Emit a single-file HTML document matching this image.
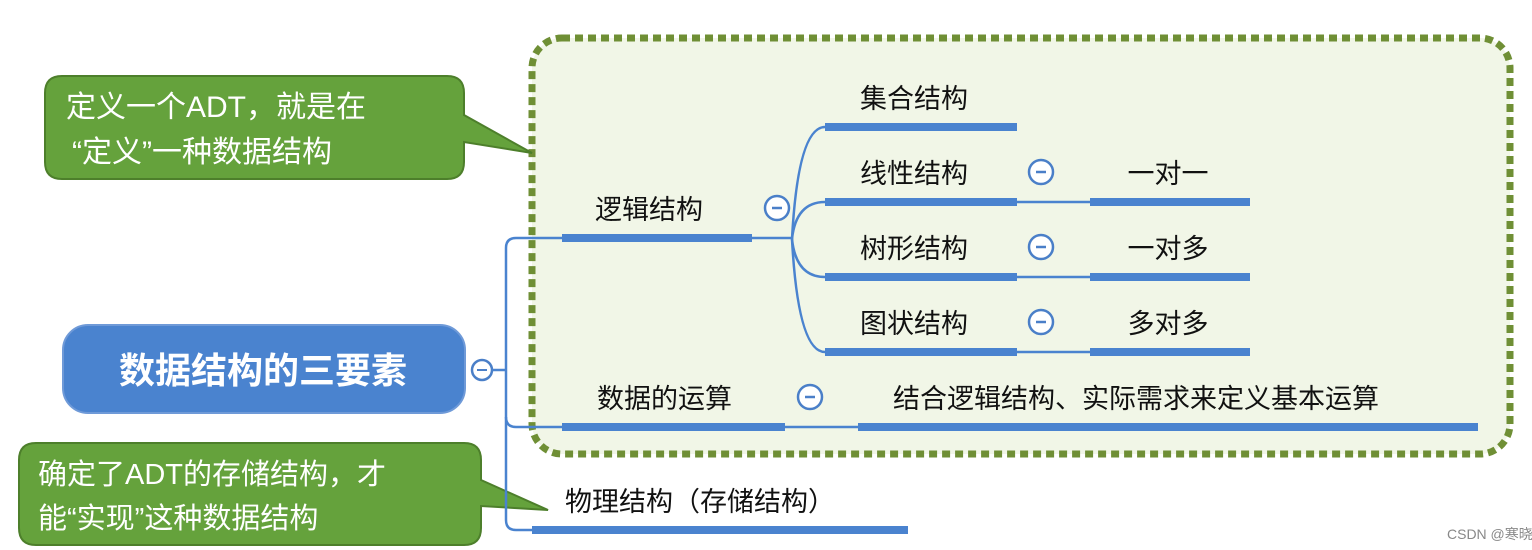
<!DOCTYPE html>
<html><head><meta charset="utf-8"><style>
html,body{margin:0;padding:0;background:#fff;}
svg{display:block}
text{font-family:"Liberation Sans","Noto Sans CJK SC",sans-serif;}
</style></head><body>
<svg width="1532" height="550" viewBox="0 0 1532 550" xmlns="http://www.w3.org/2000/svg">
<rect x="532" y="38" width="978" height="416" rx="30" fill="#f1f6e7" stroke="#6f8f35" stroke-width="7" stroke-dasharray="8 5"/>
<!-- callout 1 -->
<path d="M62,76 H447 Q464,76 464,93 V115 L532,153 L464,142 V162 Q464,179 447,179 H62 Q45,179 45,162 V93 Q45,76 62,76 Z" fill="#65a23c" stroke="#4d7f2b" stroke-width="2"/>
<text x="66" y="117" font-size="30" fill="#fff">定义一个ADT，就是在</text>
<text x="72" y="162" font-size="30" fill="#fff">“定义”一种数据结构</text>
<!-- callout 2 -->
<path d="M36,443 H464 Q481,443 481,460 V480 L548,510 L481,506 V528 Q481,545 464,545 H36 Q19,545 19,528 V460 Q19,443 36,443 Z" fill="#65a23c" stroke="#4d7f2b" stroke-width="2"/>
<text x="38" y="484" font-size="29" fill="#fff">确定了ADT的存储结构，才</text>
<text x="38" y="528" font-size="29" fill="#fff">能“实现”这种数据结构</text>
<!-- main node -->
<rect x="63" y="325" width="402" height="88" rx="25" fill="#4a83cf" stroke="#6f9ad8" stroke-width="2"/>
<text x="263" y="383" font-size="36" font-weight="bold" fill="#fff" text-anchor="middle">数据结构的三要素</text>
<circle cx="482" cy="370" r="10" fill="#fff" stroke="#4a7fc8" stroke-width="2.5"/>
<line x1="477" y1="370" x2="487" y2="370" stroke="#4a7fc8" stroke-width="2"/>
<!-- trunk -->
<g fill="none" stroke="#4a83cf" stroke-width="2.5">
<path d="M492,370 H506"/>
<path d="M562,238 H516 Q506,238 506,248 V520 Q506,530 516,530 H532"/>
<path d="M506,417 Q506,427 516,427 H562"/>
<path d="M752,238 H792"/>
<path d="M792,239 Q798,127 825,127"/>
<path d="M792,239 Q796,202 825,202"/>
<path d="M792,239 Q796,277 825,277"/>
<path d="M792,239 Q798,352 825,352"/>
<path d="M1017,202 H1090 M1017,277 H1090 M1017,352 H1090"/>
<path d="M785,427 H858"/>
</g>
<g fill="#4a83cf">
<rect x="562" y="234" width="190" height="8"/>
<rect x="562" y="423" width="223" height="8"/>
<rect x="532" y="526" width="376" height="8"/>
<rect x="825" y="123" width="192" height="8"/>
<rect x="825" y="198" width="192" height="8"/>
<rect x="825" y="273" width="192" height="8"/>
<rect x="825" y="348" width="192" height="8"/>
<rect x="1090" y="198" width="160" height="8"/>
<rect x="1090" y="273" width="160" height="8"/>
<rect x="1090" y="348" width="160" height="8"/>
<rect x="858" y="423" width="620" height="8"/>
</g>
<g fill="#fff" stroke="#4a7fc8" stroke-width="2.5">
<circle cx="777" cy="208" r="12"/>
<circle cx="1041" cy="172" r="12"/>
<circle cx="1041" cy="247" r="12"/>
<circle cx="1041" cy="322" r="12"/>
<circle cx="810" cy="397" r="12"/>
</g>
<g stroke="#4a7fc8" stroke-width="2.5">
<line x1="772" y1="208" x2="782" y2="208"/>
<line x1="1036" y1="172" x2="1046" y2="172"/>
<line x1="1036" y1="247" x2="1046" y2="247"/>
<line x1="1036" y1="322" x2="1046" y2="322"/>
<line x1="805" y1="397" x2="815" y2="397"/>
</g>
<g font-size="27" fill="#111">
<text x="595" y="219">逻辑结构</text>
<text x="597" y="408">数据的运算</text>
<text x="565" y="511">物理结构（存储结构）</text>
<text x="860" y="108">集合结构</text>
<text x="860" y="183">线性结构</text>
<text x="860" y="258">树形结构</text>
<text x="860" y="333">图状结构</text>
<text x="1168" y="183" text-anchor="middle">一对一</text>
<text x="1168" y="258" text-anchor="middle">一对多</text>
<text x="1168" y="333" text-anchor="middle">多对多</text>
<text x="893" y="408">结合逻辑结构、实际需求来定义基本运算</text>
</g>
<text x="1447" y="539" font-size="14" fill="#888">CSDN @寒晓星</text>
</svg>
</body></html>
